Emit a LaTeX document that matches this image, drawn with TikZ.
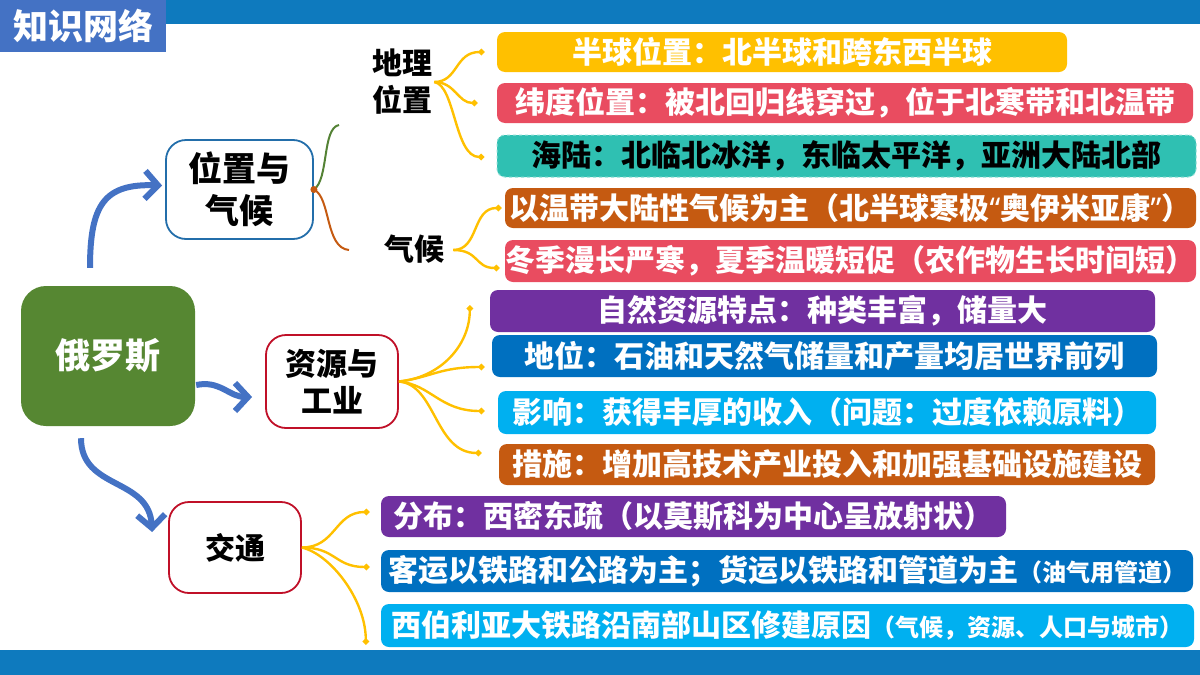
\documentclass[tikz,border=0pt]{standalone}
\usepackage{fontspec}
\setmainfont{Noto Sans CJK SC}
\newfontfamily\qfont{Noto Sans}
\usetikzlibrary{arrows.meta}
\definecolor{barblue}{RGB}{14,122,190}
\definecolor{kwblue}{RGB}{68,114,196}
\definecolor{arrowblue}{RGB}{68,114,196}
\definecolor{rgreen}{RGB}{86,135,50}
\definecolor{pblue}{RGB}{35,110,170}
\definecolor{rred}{RGB}{192,16,40}
\definecolor{yel}{RGB}{255,192,0}
\definecolor{pinkred}{RGB}{233,76,96}
\definecolor{teal2}{RGB}{47,192,178}
\definecolor{tealline}{RGB}{140,222,212}
\definecolor{orng}{RGB}{197,90,17}
\definecolor{purp}{RGB}{112,48,160}
\definecolor{blu}{RGB}{0,112,192}
\definecolor{lblu}{RGB}{0,176,240}
\definecolor{pgreen}{RGB}{84,130,53}
\definecolor{pbrown}{RGB}{197,90,17}
\begin{document}
\begin{tikzpicture}[x=1pt,y=-1pt,
  every node/.style={font=\bfseries\fontsize{30}{36}\selectfont, inner sep=0pt},
  rbox/.style={rounded corners=8pt, text=white, align=center},
  catbox/.style={line width=1.8pt, rounded corners=20pt, align=center, fill=white},
  yl/.style={draw=yel, line width=2.4pt, -{Turned Square[length=7pt,width=7pt]}},
  bl/.style={draw=arrowblue, line width=6pt, -{Straight Barb[length=13pt,width=28pt]}}
]
\useasboundingbox (0,0) rectangle (1200,675);
\fill[barblue] (0,0) rectangle (1200,24);
\fill[barblue] (0,650) rectangle (1200,675);
\node[fill=kwblue, text=white, minimum width=166pt, minimum height=52pt,
  font=\bfseries\fontsize{35}{40}\selectfont] (kw) at (83,26) {知识网络};

% main and category nodes
\node[fill=rgreen, rounded corners=25pt, minimum width=174pt, minimum height=140pt,
  text=white, font=\bfseries\fontsize{35}{40}\selectfont] (main) at (108,356) {俄罗斯};
\node[catbox, draw=pblue, minimum width=147pt, minimum height=99pt,
  font=\bfseries\fontsize{34}{42}\selectfont] (pos) at (239.5,189.5) {位置与\\气候};
\node[catbox, draw=rred, minimum width=132pt, minimum height=93pt,
  font=\bfseries\fontsize{31}{37}\selectfont] (res) at (332,381.5) {资源与\\工业};
\node[catbox, draw=rred, minimum width=132pt, minimum height=91pt] (tra) at (235,547.5) {交通};
\node[align=center, inner sep=2pt, font=\bfseries\fontsize{30}{37}\selectfont] (geo) at (402,82) {地理\\位置};
\node[inner sep=2pt] (cli) at (414,249) {气候};

% right boxes
\node[rbox, fill=yel, minimum width=570pt, minimum height=40pt] (A) at (782,52) {半球位置：北半球和跨东西半球};
\node[rbox, fill=pinkred, minimum width=696pt, minimum height=40pt] (B) at (845,103) {纬度位置：被北回归线穿过，位于北寒带和北温带};
\node[rbox, fill=teal2, draw=tealline, dashed, line width=1pt, text=black, minimum width=699pt, minimum height=42pt] (C) at (846.5,156) {海陆：北临北冰洋，东临太平洋，亚洲大陆北部};
\node[rbox, fill=orng, minimum width=691pt, minimum height=40pt] (D) at (850.5,208) {以温带大陆性气候为主（北半球寒极{\qfont “}奥伊米亚康{\qfont ”}）};
\node[rbox, fill=pinkred, minimum width=691pt, minimum height=42pt] (E) at (850.5,261) {冬季漫长严寒，夏季温暖短促（农作物生长时间短）};
\node[rbox, fill=purp, minimum width=665pt, minimum height=42pt] (F) at (822.5,311) {自然资源特点：种类丰富，储量大};
\node[rbox, fill=blu, minimum width=665pt, minimum height=42pt] (G) at (824.5,356) {地位：石油和天然气储量和产量均居世界前列};
\node[rbox, fill=lblu, minimum width=658pt, minimum height=43pt] (H) at (827,412.5) {影响：获得丰厚的收入（问题：过度依赖原料）};
\node[rbox, fill=orng, minimum width=656pt, minimum height=41pt] (I) at (827,464.5) {措施：增加高技术产业投入和加强基础设施建设};
\node[rbox, fill=purp, minimum width=625pt, minimum height=41pt] (J) at (693.5,516.5) {分布：西密东疏（以莫斯科为中心呈放射状）};
\node[rbox, fill=blu, minimum width=812pt, minimum height=42pt] (K) at (787,571) {客运以铁路和公路为主；货运以铁路和管道为主{\fontsize{24}{28}\selectfont（油气用管道）}};
\node[rbox, fill=lblu, minimum width=813pt, minimum height=43pt] (L) at (787.5,625.5) {西伯利亚大铁路沿南部山区修建原因{\fontsize{24}{28}\selectfont（气候，资源、人口与城市）}};

% blue arrows
\draw[bl] ([shift={(-18,-18)}]main.north) .. controls +(0,-63) and +(-58,-2) .. ([shift={(-3,-4)}]pos.west);
\draw[bl] ([shift={(1,29)}]main.east) .. controls +(24,-5) and +(-23,0) .. ([shift={(-13,15.5)}]res.west);
\draw[bl] ([shift={(-27,12)}]main.south) .. controls +(0,52) and +(-3,-55) .. ([shift={(-16,-15.5)}]tra.west);

% position/climate split
\coordinate (gEnd) at (339,125);
\coordinate (bEnd) at (349,250);
\draw[pgreen, line width=2pt] (pos.east) .. controls +(15,-10) and +(-17,3) .. (gEnd);
\draw[pbrown, line width=2pt] (pos.east) .. controls +(17,8) and +(-24,-2) .. (bEnd);
\fill[pbrown] (pos.east) circle (3.5pt);

% geo brace
\draw[yl] (geo.east) .. controls +(24,0) and +(-30,0) .. ([shift={(-12,0)}]A.west);
\draw[yl] (geo.east) .. controls +(21,0) and +(-20,0) .. ([shift={(-19,0)}]B.west);
\draw[yl] (geo.east) .. controls +(21,3) and +(-30,0) .. ([shift={(-12,1)}]C.west);
% climate brace
\draw[yl] ([shift={(7,1)}]cli.east) .. controls +(26,0) and +(-30,0) .. ([shift={(-3,0)}]D.west);
\draw[yl] ([shift={(7,1)}]cli.east) .. controls +(26,0) and +(-25,0) .. ([shift={(-5,7)}]E.west);
% resources branches
\draw[yl] (res.east) .. controls +(42,-4) and +(0,40) .. ([shift={(-20,-6)}]F.west);
\draw[yl] (res.east) .. controls +(32,-4) and +(-45,0) .. ([shift={(-7,11)}]G.west);
\draw[yl] (res.east) .. controls +(32,3) and +(-45,0) .. ([shift={(-13,-1.5)}]H.west);
\draw[yl] (res.east) .. controls +(37,3) and +(-47,0) .. ([shift={(-17,-11.5)}]I.west);
% transport branches
\draw[yl] (tra.east) .. controls +(34,0) and +(-35,0) .. ([shift={(-11,-4.5)}]J.west);
\draw[yl] (tra.east) .. controls +(34,0) and +(-35,0) .. ([shift={(-11,-4)}]K.west);
\draw[yl] (tra.east) .. controls +(29,7) and +(0,-45) .. ([shift={(-15,19.5)}]L.west);
\end{tikzpicture}
\end{document}
